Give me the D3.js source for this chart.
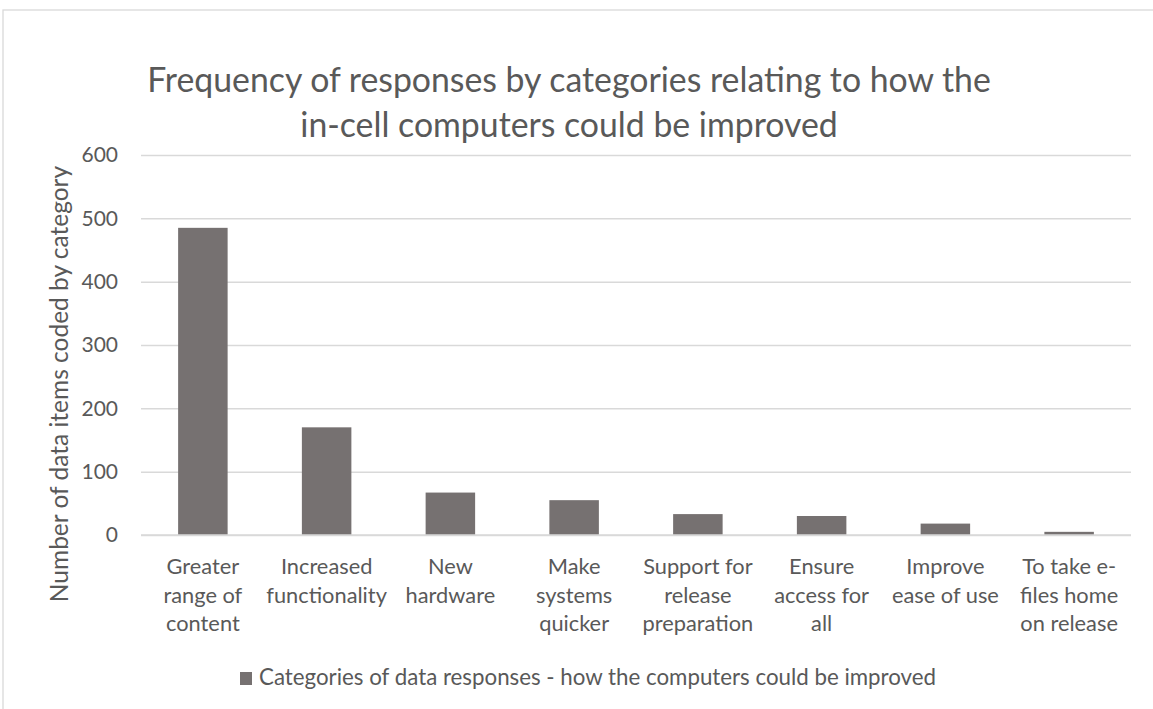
<!DOCTYPE html>
<html>
<head>
<meta charset="utf-8">
<script src="https://cdn.jsdelivr.net/npm/d3@7"></script>
<style>
  html, body { margin: 0; padding: 0; background: #ffffff; }
  svg { display: block; }
  text { font-family: Lato, "Open Sans", sans-serif; fill: #595959; }
</style>
</head>
<body>
<svg id="chart" width="1153" height="709"></svg>
<script>
// Category labels (already broken into lines as they appear under each bar)
const categories = [
  ["Greater", "range of", "content"],
  ["Increased", "functionality"],
  ["New", "hardware"],
  ["Make", "systems", "quicker"],
  ["Support for", "release", "preparation"],
  ["Ensure", "access for", "all"],
  ["Improve", "ease of use"],
  ["To take e-", "files home", "on release"]
];
const counts = [485, 170, 67, 55, 33, 30, 18, 5];
const yTicks = [0, 100, 200, 300, 400, 500, 600];
const titleLines = [
  "Frequency of responses by categories relating to how the",
  "in-cell computers could be improved"
];
const yAxisTitle = "Number of data items coded by category";
const legendLabel = "Categories of data responses - how the computers could be improved";

const svg = d3.select("#chart");
const W = 1153, H = 709;
const plot = { left: 141, right: 1131, top: 155, bottom: 535 };
const barColor = "#767171";
const gridColor = "#d9d9d9";

// Chart frame
svg.append("rect")
  .attr("x", 3).attr("y", 10)
  .attr("width", W + 10).attr("height", H + 10)
  .attr("fill", "none").attr("stroke", gridColor).attr("stroke-width", 1.3);

const x = d3.scaleBand()
  .domain(d3.range(categories.length))
  .range([plot.left, plot.right])
  .paddingInner(0.6)
  .paddingOuter(0.3);

const y = d3.scaleLinear()
  .domain([0, 600])
  .range([plot.bottom, plot.top]);

// Horizontal gridlines and value labels
const yAxis = d3.axisLeft(y)
  .tickValues(yTicks)
  .tickSize(-(plot.right - plot.left))
  .tickPadding(23);
const gy = svg.append("g")
  .attr("transform", `translate(${plot.left},0)`)
  .call(yAxis);
gy.select(".domain").remove();
gy.selectAll(".tick line")
  .attr("stroke", gridColor).attr("stroke-width", 1.5);
gy.selectAll(".tick text")
  .attr("font-size", 21).attr("fill", "#595959")
  .style("font-family", "Lato, 'Open Sans', sans-serif");

// Bars
svg.append("g").selectAll("rect")
  .data(counts)
  .join("rect")
  .attr("x", (d, i) => x(i))
  .attr("y", d => y(d))
  .attr("width", x.bandwidth())
  .attr("height", d => y(0) - y(d))
  .attr("fill", barColor);

// Redraw baseline over the bars
svg.append("line")
  .attr("x1", plot.left).attr("x2", plot.right)
  .attr("y1", y(0)).attr("y2", y(0))
  .attr("stroke", gridColor).attr("stroke-width", 1.5);

// Category labels, multi-line
const xl = svg.append("g").selectAll("text")
  .data(categories)
  .join("text")
  .attr("text-anchor", "middle")
  .attr("font-size", 21.8)
  .attr("x", (d, i) => x(i) + x.bandwidth() / 2)
  .attr("y", 574);
xl.selectAll("tspan")
  .data(d => d)
  .join("tspan")
  .attr("x", function () { return d3.select(this.parentNode).attr("x"); })
  .attr("dy", (d, i) => i === 0 ? 0 : 28.7)
  .text(d => d);

// Title
svg.append("text")
  .attr("text-anchor", "middle")
  .attr("font-size", 33.8)
  .selectAll("tspan")
  .data(titleLines)
  .join("tspan")
  .attr("x", 569)
  .attr("y", (d, i) => 92 + i * 45)
  .text(d => d);

// Y axis title
svg.append("text")
  .attr("text-anchor", "middle")
  .attr("font-size", 24.5)
  .attr("transform", `translate(68,384) rotate(-90)`)
  .text(yAxisTitle);

// Legend
const lg = svg.append("g").attr("transform", "translate(240,672)");
lg.append("rect")
  .attr("width", 12).attr("height", 13)
  .attr("fill", barColor);
lg.append("text")
  .attr("x", 19).attr("y", 13)
  .attr("font-size", 22.3)
  .text(legendLabel);
</script>
</body>
</html>
